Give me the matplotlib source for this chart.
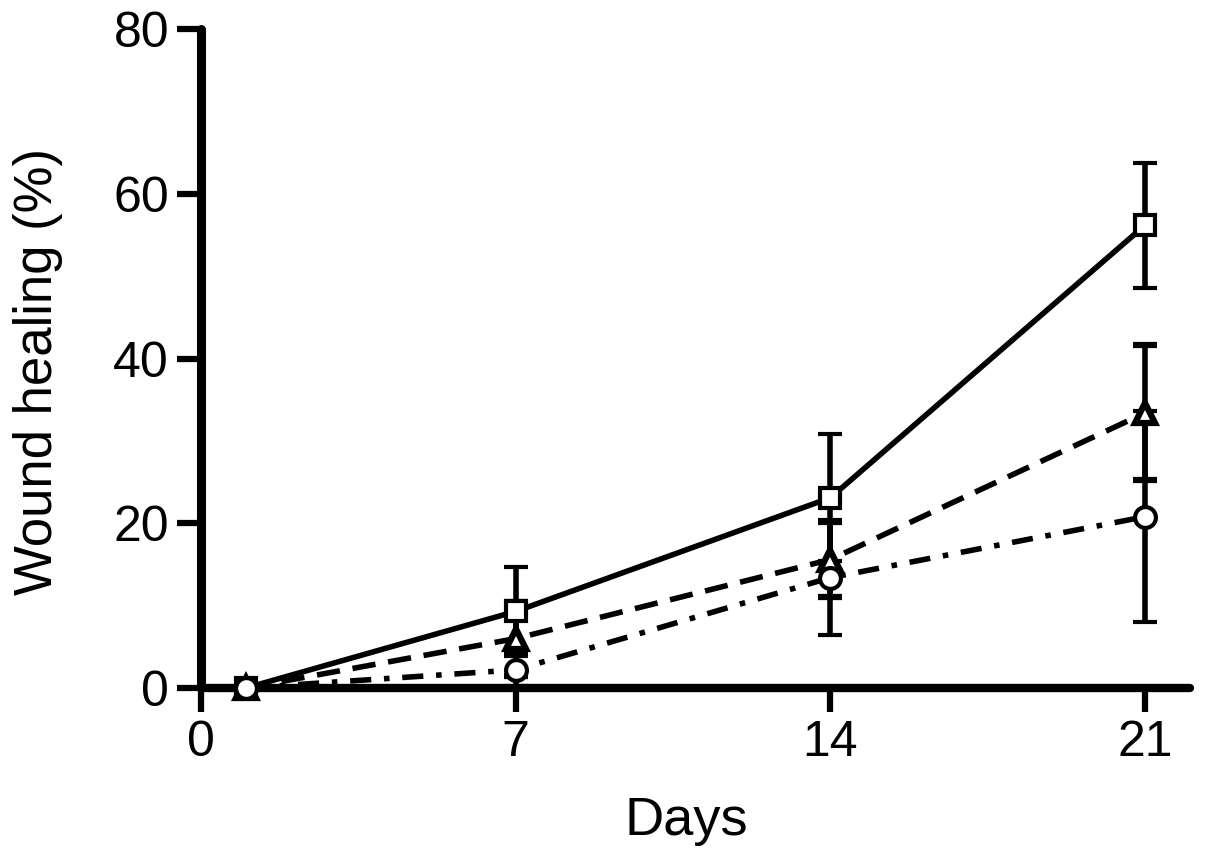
from matplotlib import pyplot as plt

plt.rcParams['font.family'] = ['Liberation Sans', 'DejaVu Sans']

days = [1, 7, 14, 21]
square_mean = [0, 9.3, 23.1, 56.2]
square_err = [0, 5.4, 7.7, 7.6]
triangle_mean = [0, 6.0, 15.6, 33.4]
triangle_err = [0, 4.5, 4.6, 8.2]
circle_mean = [0, 2.2, 13.4, 20.8]
circle_err = [0, 2.0, 7.0, 12.8]

xticks = [0, 7, 14, 21]
yticks = [0, 20, 40, 60, 80]

fig = plt.figure(figsize=(12.05, 8.57), dpi=100)
ax = fig.add_axes([0.1668, 0.1972, 0.8208, 0.7688])

lw = 4
series = [
    (square_mean, square_err, 's', '-', 15, 3),
    (triangle_mean, triangle_err, '^', (0, (4.2, 2.3)), 15, 4.5),
    (circle_mean, circle_err, 'o', (0, (3.8, 2.3, 1, 2.3)), 15, 3),
]
for mean, err, marker, ls, ms, mew in series:
    ax.errorbar(days, mean, yerr=err, color='black', lw=lw, ls=ls,
                marker=marker, ms=ms, mfc='white', mec='black', mew=mew,
                elinewidth=lw, capsize=8.5, capthick=lw, clip_on=False,
                zorder=3, dash_capstyle='butt')

ax.set_xlim(0, 22)
ax.set_ylim(0, 80)
ax.set_xticks(xticks)
ax.set_yticks(yticks)
for s in ['top', 'right']:
    ax.spines[s].set_visible(False)
ax.spines['left'].set_linewidth(6.5)
ax.spines['bottom'].set_linewidth(6)
ax.spines['left'].set_capstyle('round')
ax.spines['bottom'].set_capstyle('round')
ax.tick_params(direction='out', length=17, width=4.5, labelsize=36, pad=6)
ax.set_xlabel('Days', fontsize=39, labelpad=22)
ax.set_ylabel('Wound healing (%)', fontsize=38, labelpad=36)
ax.xaxis.label.set_x(0.491)
ax.yaxis.label.set_y(0.48)

fig.savefig('out.png', dpi=100)
